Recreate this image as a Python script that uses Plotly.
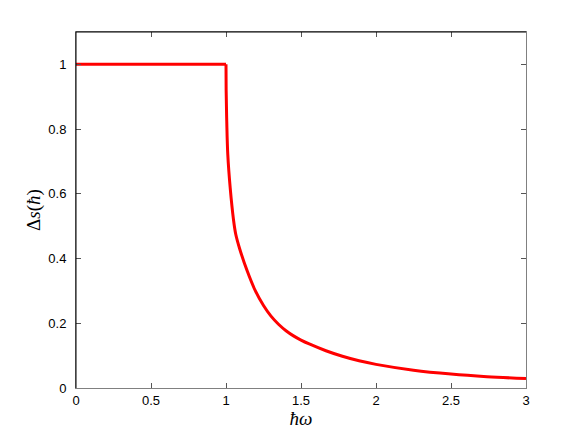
import plotly.graph_objects as go

# Data
flat_x = [0.0, 1.0]
flat_y = [1.0, 1.0]

hbar_omega = [1.0, 1.001, 1.005, 1.012, 1.028, 1.05, 1.065, 1.09, 1.141, 1.196, 1.25,
              1.30, 1.35, 1.40, 1.45, 1.50, 1.555, 1.666, 1.776, 1.887, 2.0, 2.25,
              2.5, 2.74, 3.0]
delta_s = [1.0, 0.92, 0.824, 0.721, 0.618, 0.52, 0.475, 0.432, 0.362, 0.300, 0.255,
           0.222, 0.197, 0.177, 0.161, 0.148, 0.136, 0.115, 0.098, 0.084, 0.073, 0.055,
           0.043, 0.035, 0.029]

x_ticks = [0, 0.5, 1, 1.5, 2, 2.5, 3]
x_tick_labels = ["0", "0.5", "1", "1.5", "2", "2.5", "3"]
y_ticks = [0, 0.2, 0.4, 0.6, 0.8, 1]
y_tick_labels = ["0", "0.2", "0.4", "0.6", "0.8", "1"]

fig = go.Figure()
fig.add_trace(go.Scatter(x=flat_x, y=flat_y, mode="lines",
                         line=dict(color="#ff0000", width=3), showlegend=False))
fig.add_trace(go.Scatter(x=hbar_omega, y=delta_s, mode="lines",
                         line=dict(color="#ff0000", width=3, shape="spline", smoothing=1.0),
                         showlegend=False))

axis_font = dict(family="Liberation Sans, Arial, sans-serif", size=13, color="black")
title_font = dict(family="Liberation Serif, DejaVu Serif, serif", size=19, color="black")

fig.update_layout(
    width=573, height=428,
    margin=dict(l=68, r=55, t=24, b=48),
    paper_bgcolor="white", plot_bgcolor="white",
    xaxis=dict(range=[0, 3], tickvals=x_ticks, ticktext=x_tick_labels,
               ticks="inside", ticklen=5, tickcolor="#555555", showgrid=False, zeroline=False,
               showline=True, linecolor="#808080", linewidth=1, mirror="ticks",
               tickfont=axis_font, automargin=False,
               title=dict(text="<i>ħω</i>", font=title_font, standoff=5)),
    yaxis=dict(range=[0, 1.1], tickvals=y_ticks, ticktext=y_tick_labels,
               ticks="inside", ticklen=5, tickcolor="#555555", showgrid=False, zeroline=False,
               showline=True, linecolor="#808080", linewidth=1, mirror="ticks",
               tickfont=axis_font, ticklabelstandoff=6, automargin=False,
               title=dict(text="Δ<i>s</i>(<i>ħ</i>)", font=title_font, standoff=2)),
    shapes=[
        dict(type="line", xref="paper", yref="paper", x0=0, x1=1, y0=1, y1=1,
             line=dict(color="black", width=1)),
        dict(type="line", xref="paper", yref="paper", x0=0, x1=0, y0=0, y1=1,
             line=dict(color="black", width=1)),
    ],
)

fig.write_html("out.html")
